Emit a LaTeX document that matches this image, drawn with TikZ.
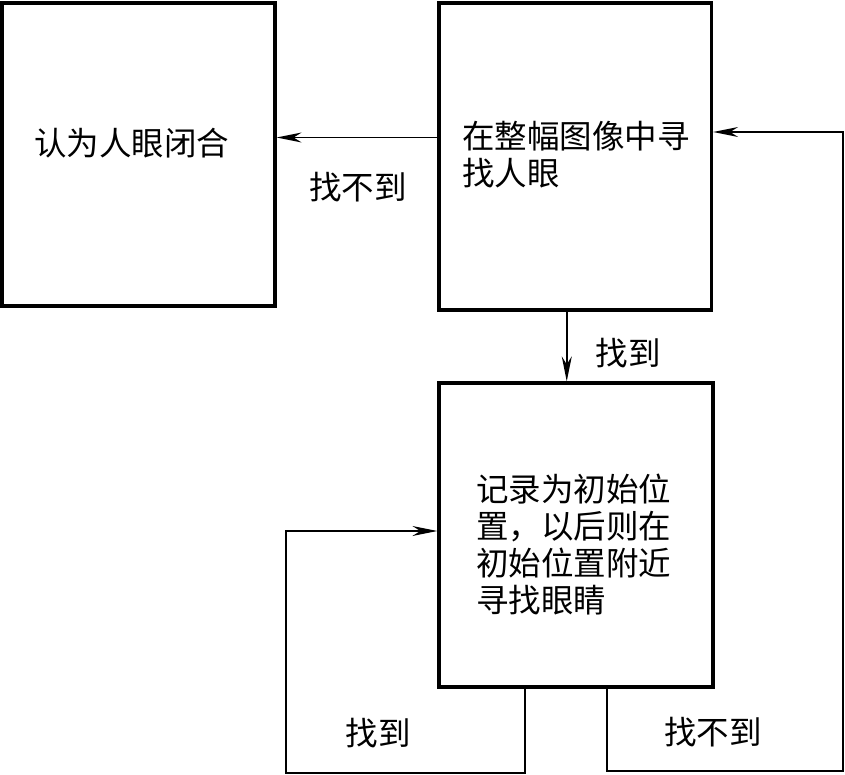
\documentclass[tikz,border=0pt]{standalone}
\usepackage{fontspec}
\newfontfamily\cjk{Noto Sans CJK SC}
\usetikzlibrary{arrows.meta}
\begin{document}
\begin{tikzpicture}[x=1pt,y=-1pt,
  box/.style={draw,line width=3.2pt,minimum width=#1,inner sep=0pt},
  txt/.style={inner sep=0pt,align=left,font=\cjk\fontsize{32.5}{37}\selectfont},
  arr/.style={line width=1.6pt,-{Stealth[length=25pt,width=10pt,inset=8pt]}},
  conn/.style={line width=1.6pt}]
\useasboundingbox (0,0) rectangle (845,775);
\node[box=273pt,minimum height=303pt] (A) at (138.5,154.5) {};
\node[box=272.5pt,minimum height=307pt] (B) at (575.25,156.5) {};
\node[box=274pt,minimum height=304pt] (C) at (576,535) {};
\node[txt] (ta) at (131.5,143) {认为人眼闭合};
\node[txt] (tb) at (576,155) {在整幅图像中寻\\找人眼};
\node[txt] (tc) at (573.5,545) {记录为初始位\\置，以后则在\\初始位置附近\\寻找眼睛};
\draw[arr] ([yshift=19pt]B.west) -- ([yshift=19pt]B.west -| A.east);
\draw[arr] ([xshift=-8.5pt]B.south) -- ([xshift=-8.5pt]B.south |- C.north);
\coordinate (L1) at (286,773);
\coordinate (R1) at (843,771);
\draw[arr] ([xshift=-51pt]C.south) |- (L1) |- ([yshift=4pt]C.west);
\draw[arr] ([xshift=31pt]C.south) |- (R1) |- ([yshift=24.5pt]B.east);
\node[txt] (l1) at (358,187) {找不到};
\node[txt] (l2) at (628,353) {找到};
\node[txt] (l3) at (378,733) {找到};
\node[txt] (l4) at (713,732) {找不到};
\end{tikzpicture}
\end{document}
